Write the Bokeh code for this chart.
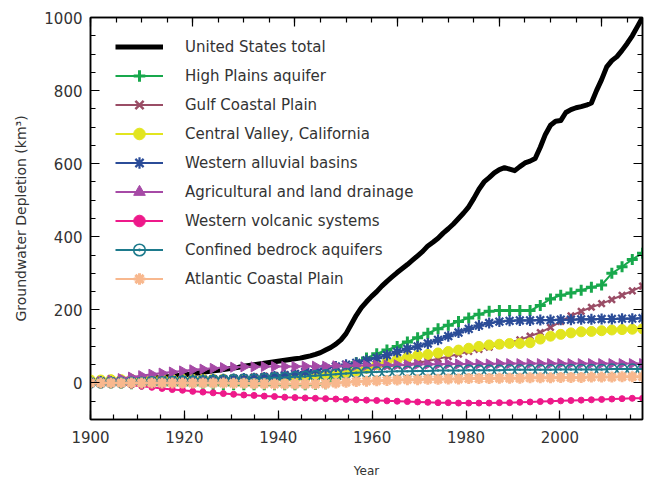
import math
from bokeh.plotting import figure
from bokeh.models import (Range1d, LinearAxis, Legend, LegendItem, SingleIntervalTicker,
                          CustomLabelingPolicy)
from bokeh.embed import file_html
from bokeh.resources import INLINE

# ---------------- data ----------------
years_total = list(range(1900, 2009))
us_total = [0, 1, 2, 3, 4, 5, 6, 7, 8, 9,
            10, 11, 12, 14, 15, 17, 18, 20, 22, 23,
            25, 27, 29, 31, 33, 35, 37, 39, 41, 43,
            46, 48, 50, 52, 54, 56, 58, 60, 62, 64,
            66, 68, 71, 74, 78, 83, 90, 97, 106, 118,
            135, 160, 185, 206, 222, 237, 250, 265, 278, 290,
            302, 313, 324, 336, 348, 360, 375, 385, 396, 410,
            422, 435, 450, 465, 482, 505, 530, 550, 562, 575,
            584, 589, 585, 581, 592, 602, 607, 614, 645, 680,
            705, 716, 718, 740, 748, 753, 756, 760, 766, 800,
            830, 865, 882, 893, 910, 929, 950, 975, 1000]

years = list(range(1900, 2009, 2))
high_plains = [0, 0, 0, -1, -2, -3, -4, -5, -5, -5,
               -5, -5, -5, -5, -5, -5, -5, -5, -5, -5,
               -5, -5, -4, -2, 12, 32, 55, 68, 80, 90,
               100, 112, 124, 136, 148, 158, 168, 178, 188, 196,
               198, 198, 198, 198, 212, 230, 240, 246, 254, 262,
               268, 300, 318, 338, 355]
gulf_coastal = [0, 1, 2, 3, 4, 5, 6, 7, 8, 9,
                10, 11, 12, 13, 14, 15, 17, 19, 21, 23,
                25, 27, 29, 31, 33, 35, 38, 41, 44, 46,
                48, 50, 55, 60, 66, 72, 79, 86, 92, 98,
                104, 110, 118, 128, 138, 152, 168, 184, 196, 207,
                217, 228, 240, 252, 265]
central_valley = [8, 8, 9, 9, 10, 10, 10, 10, 10, 10,
                  10, 10, 10, 10, 10, 10, 10, 11, 11, 12,
                  12, 14, 15, 18, 22, 27, 32, 40, 50, 58,
                  64, 70, 75, 78, 82, 86, 90, 95, 100, 104,
                  106, 108, 108, 110, 120, 128, 133, 137, 140, 141,
                  143, 145, 146, 147, 148]
western_alluvial = [3, 4, 4, 5, 5, 6, 6, 7, 8, 8,
                    9, 9, 10, 10, 11, 12, 13, 15, 18, 21,
                    25, 30, 35, 40, 45, 50, 55, 62, 68, 76,
                    85, 93, 100, 108, 118, 128, 138, 148, 157, 164,
                    168, 170, 171, 171, 172, 172, 173, 173, 174, 174,
                    175, 175, 176, 176, 177]
agricultural = [0, 4, 8, 12, 16, 20, 24, 27, 30, 33,
                36, 38, 40, 42, 43, 44, 44, 45, 45, 45,
                45, 46, 46, 46, 47, 47, 48, 48, 49, 49,
                50, 50, 51, 51, 51, 52, 52, 52, 52, 52,
                53, 53, 53, 53, 53, 53, 53, 53, 53, 53,
                53, 53, 53, 53, 53]
volcanic = [0, -1, -3, -4, -6, -9, -12, -15, -18, -20,
            -23, -25, -27, -29, -31, -33, -34, -36, -37, -39,
            -40, -41, -42, -43, -44, -45, -46, -47, -48, -49,
            -50, -51, -52, -53, -54, -54, -55, -55, -55, -55,
            -54, -54, -53, -52, -51, -50, -49, -48, -47, -46,
            -45, -44, -43, -42, -42]
confined_bedrock = [0, 0, 1, 1, 2, 2, 3, 3, 4, 5,
                    5, 6, 7, 8, 9, 10, 11, 12, 14, 15,
                    17, 18, 20, 22, 24, 26, 28, 29, 30, 31,
                    32, 32, 33, 33, 34, 34, 34, 35, 35, 35,
                    35, 36, 36, 36, 36, 36, 37, 37, 37, 37,
                    37, 38, 38, 38, 38]
atlantic_coastal = [0, 0, 0, 0, 0, 0, 0, 0, 0, 0,
                    0, 0, 0, 0, -1, -1, -2, -2, -3, -3,
                    -3, -3, -3, -2, 0, 2, 4, 5, 6, 7,
                    8, 9, 9, 10, 10, 11, 11, 12, 12, 12,
                    13, 13, 13, 14, 14, 14, 15, 15, 15, 16,
                    16, 16, 17, 17, 17]

labels = ["United States total", "High Plains aquifer", "Gulf Coastal Plain",
          "Central Valley, California", "Western alluvial basins",
          "Agricultural and land drainage", "Western volcanic systems",
          "Confined bedrock aquifers", "Atlantic Coastal Plain"]

y_ticks_interval = 200
x_ticks_interval = 20

# ---------------- figure ----------------
FONT = "DejaVu Sans"
TXT = "#333333"

p = figure(width=647, height=480, output_backend="svg", toolbar_location=None,
           x_range=Range1d(1900, 2008), y_range=Range1d(-100, 1000),
           x_axis_location=None, y_axis_location=None,
           min_border_left=90, min_border_right=2, min_border_top=17, min_border_bottom=57)
p.extra_x_ranges = {"yearaxis": Range1d(1900, 2017.6)}
p.xgrid.grid_line_color = None
p.ygrid.grid_line_color = None
p.outline_line_color = "black"
p.outline_line_width = 1.5
p.background_fill_color = "white"
p.border_fill_color = "white"

hide_all = CustomLabelingPolicy(code="""
    for (const i of indices) indices.unset(i)
    return indices
""")


def style_axis(ax, labels_on=True):
    ax.axis_line_color = "black"
    ax.axis_line_width = 1.5
    ax.major_tick_in = 9
    ax.major_tick_out = 0
    ax.minor_tick_in = 5
    ax.minor_tick_out = 0
    ax.major_tick_line_color = "black"
    ax.minor_tick_line_color = "black"
    ax.major_tick_line_width = 1.2
    ax.minor_tick_line_width = 1.2
    if labels_on:
        ax.major_label_text_font = FONT
        ax.major_label_text_font_size = "15px"
        ax.major_label_text_color = TXT
    else:
        ax.major_label_policy = hide_all
        ax.major_label_text_font_size = "1px"
        ax.major_label_standoff = 0


bottom = LinearAxis(x_range_name="yearaxis",
                    ticker=SingleIntervalTicker(interval=x_ticks_interval, num_minor_ticks=4),
                    axis_label="Year")
style_axis(bottom)
bottom.major_label_standoff = 11
bottom.axis_label_standoff = 18
bottom.axis_label_text_font = FONT
bottom.axis_label_text_font_size = "12px"
bottom.axis_label_text_font_style = "normal"
bottom.axis_label_text_color = TXT
p.add_layout(bottom, "below")

top = LinearAxis(ticker=SingleIntervalTicker(interval=x_ticks_interval, num_minor_ticks=4))
style_axis(top, labels_on=False)
p.add_layout(top, "above")

left = LinearAxis(ticker=SingleIntervalTicker(interval=y_ticks_interval, num_minor_ticks=4),
                  axis_label="Groundwater Depletion (km³)")
style_axis(left)
left.major_label_standoff = 8
left.axis_label_standoff = 12
left.axis_label_text_font = FONT
left.axis_label_text_font_size = "14px"
left.axis_label_text_font_style = "normal"
left.axis_label_text_color = TXT
p.add_layout(left, "left")

right = LinearAxis(ticker=SingleIntervalTicker(interval=y_ticks_interval, num_minor_ticks=4))
style_axis(right, labels_on=False)
p.add_layout(right, "right")

# ---------------- series ----------------
items = []

r_us = p.line(years_total, us_total, line_color="black", line_width=5, line_join="round")
items.append(LegendItem(label=labels[0], renderers=[r_us]))

series = [
    (high_plains, "#18a84c", dict(marker="cross", size=11, line_width=3)),
    (gulf_coastal, "#9a4d66", dict(marker="x", size=9, line_width=2.5)),
    (central_valley, "#e2e51f", dict(marker="circle", size=10, line_width=1)),
    (western_alluvial, "#2b4c98", dict(marker="asterisk", size=11, line_width=2.2)),
    (agricultural, "#a64aa6", dict(marker="triangle", size=10, line_width=1, angle=-math.pi / 2)),
    (volcanic, "#ee198a", dict(marker="circle", size=6, line_width=1)),
    (confined_bedrock, "#1d7a8c", dict(marker="circle_dot", size=10, line_width=1.6, fill_alpha=0)),
    (atlantic_coastal, "#f8b88e", dict(marker="asterisk", size=11, line_width=3)),
]

for (vals, color, mk), lab in zip(series, labels[1:]):
    rl = p.line(years, vals, line_color=color, line_width=2)
    kw = dict(mk)
    fa = kw.pop("fill_alpha", 1.0)
    rs = p.scatter(years, vals, line_color=color, fill_color=color, fill_alpha=fa, **kw)
    items.append(LegendItem(label=lab, renderers=[rl, rs]))

legend = Legend(items=items, location=(25, 126))
legend.glyph_width = 48
legend.glyph_height = 29
legend.label_height = 29
legend.spacing = 0
legend.padding = 0
legend.margin = 0
legend.label_standoff = 22
legend.label_text_font = FONT
legend.label_text_font_size = "15px"
legend.label_text_color = TXT
legend.background_fill_alpha = 0
legend.border_line_color = None
p.add_layout(legend)

open("out.html", "w").write(file_html(p, INLINE))
